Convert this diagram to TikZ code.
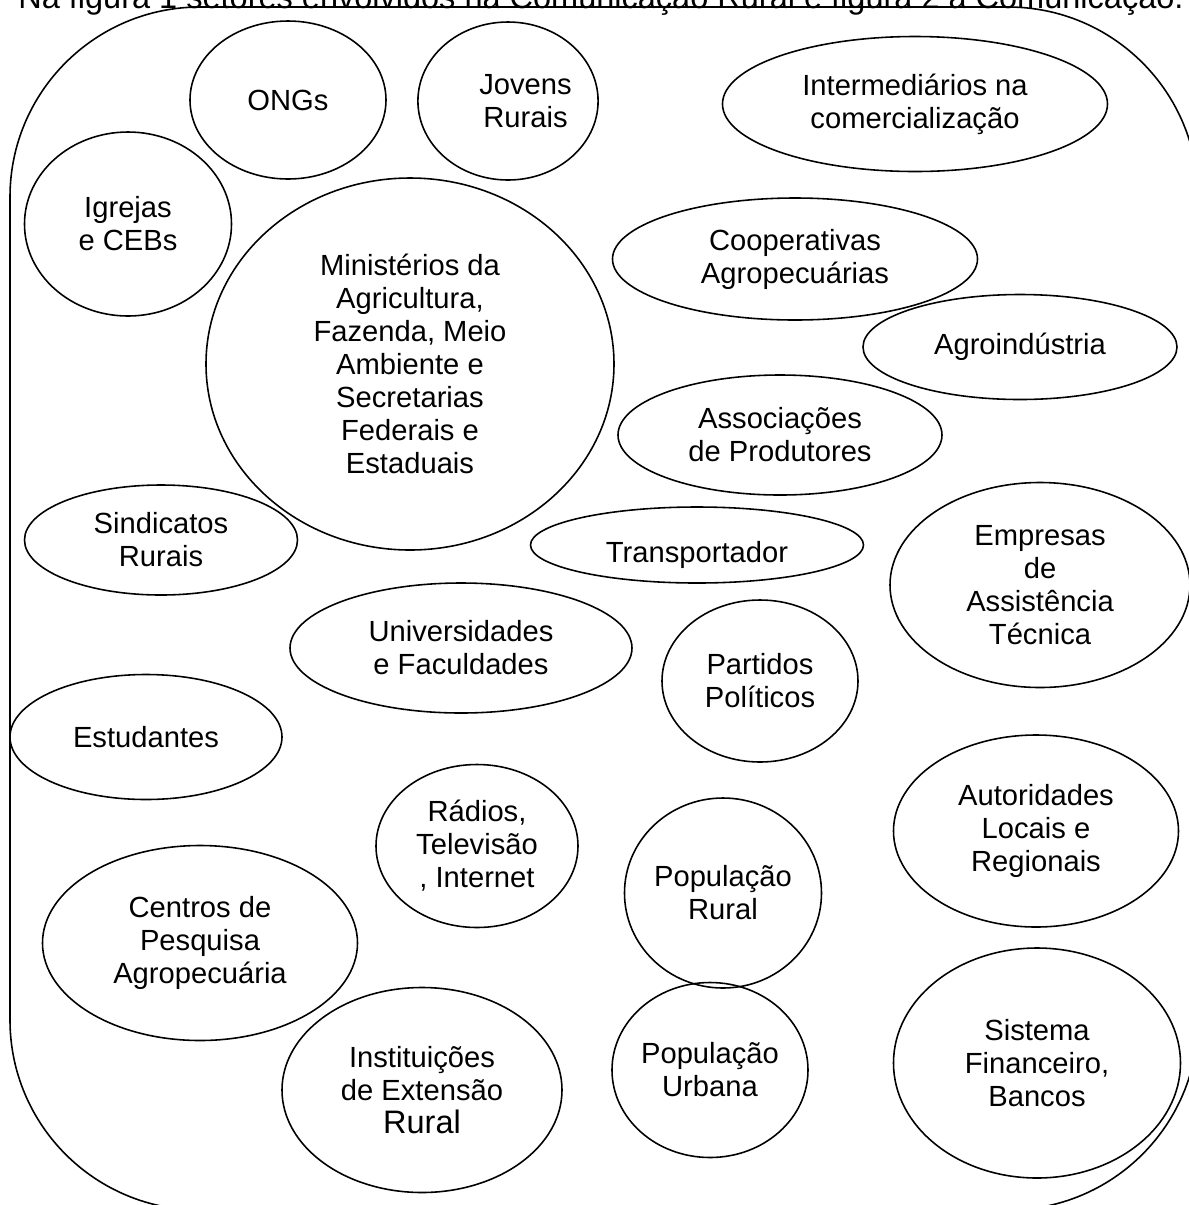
\documentclass[tikz,border=0pt]{standalone}
\usepackage{fontspec}
\setmainfont{Liberation Sans}
\usetikzlibrary{shapes.geometric}

\tikzset{
  setor/.style={draw,ellipse,line width=0.9pt,inner sep=0pt,align=center,
    font=\fontsize{16.6}{18.8}\selectfont},
  tam/.style 2 args={minimum width=#1*0.02cm,minimum height=#2*0.02cm}
}

\begin{document}
\begin{tikzpicture}[x=0.02cm,y=-0.02cm]
\useasboundingbox (0,0) rectangle (1189,1205);
\node[anchor=base west,inner sep=0pt,font=\fontsize{18.5}{21}\selectfont] (titulo) at (18,8)
  {Na figura 1 setores envolvidos na Comunicação Rural e figura 2 a Comunicação.};
% contorno
\draw[line width=0.9pt,rounded corners=3.8cm] (10,7) rectangle (1198,1210);
% setores
\node[setor,tam={196}{158}] (ongs) at (288,100) {ONGs};
\node[setor,tam={163}{158}] (jovens) at (508,101) {\hspace*{0.7cm}Jovens\\\hspace*{0.7cm}Rurais};
\node[setor,tam={385}{135}] (interm) at (915,104) {Intermediários na\\comercialização};
\node[setor,tam={207}{184}] (igrejas) at (128,224) {Igrejas\\e CEBs};
\node[setor,tam={408}{372}] (minist) at (410,364) {Ministérios da\\Agricultura,\\Fazenda, Meio\\Ambiente e\\Secretarias\\Federais e\\Estaduais};
\node[setor,tam={365}{122}] (coop) at (795,259) {Cooperativas\\Agropecuárias};
\node[setor,tam={314}{105}] (agroind) at (1020,347) {Agroindústria};
\node[setor,tam={324}{120}] (assoc) at (780,435) {Associações\\de Produtores};
\node[setor,tam={333}{76}] (transp) at (697,545) {\raisebox{-0.14cm}[\height][0pt]{Transportador}};
\node[setor,tam={273}{110}] (sind) at (161,540) {Sindicatos\\Rurais};
\node[setor,tam={300}{205}] (empresas) at (1040,585) {Empresas\\de\\Assistência\\Técnica};
\node[setor,tam={342}{130}] (univ) at (461,648) {Universidades\\e Faculdades};
\node[setor,tam={196}{162}] (partidos) at (760,681) {Partidos\\Políticos};
\node[setor,tam={272}{125}] (estud) at (146,737) {Estudantes};
\node[setor,tam={202}{163}] (radios) at (477,846) {Rádios,\\Televisão\\, Internet};
\node[setor,tam={285}{192}] (autor) at (1036,831) {Autoridades\\Locais e\\Regionais};
\node[setor,tam={315}{195}] (centros) at (200,943) {Centros de\\Pesquisa\\Agropecuária};
\node[setor,tam={197}{190}] (poprural) at (723,893) {População\\Rural};
\node[setor,tam={287}{230}] (sistema) at (1037,1063) {Sistema\\Financeiro,\\Bancos};
\node[setor,tam={280}{205}] (instit) at (422,1090) {Instituições\\de Extensão\\{\fontsize{18.5}{20}\selectfont Rural}};
\node[setor,tam={196}{175}] (popurb) at (710,1070) {População\\Urbana};
\end{tikzpicture}
\end{document}
